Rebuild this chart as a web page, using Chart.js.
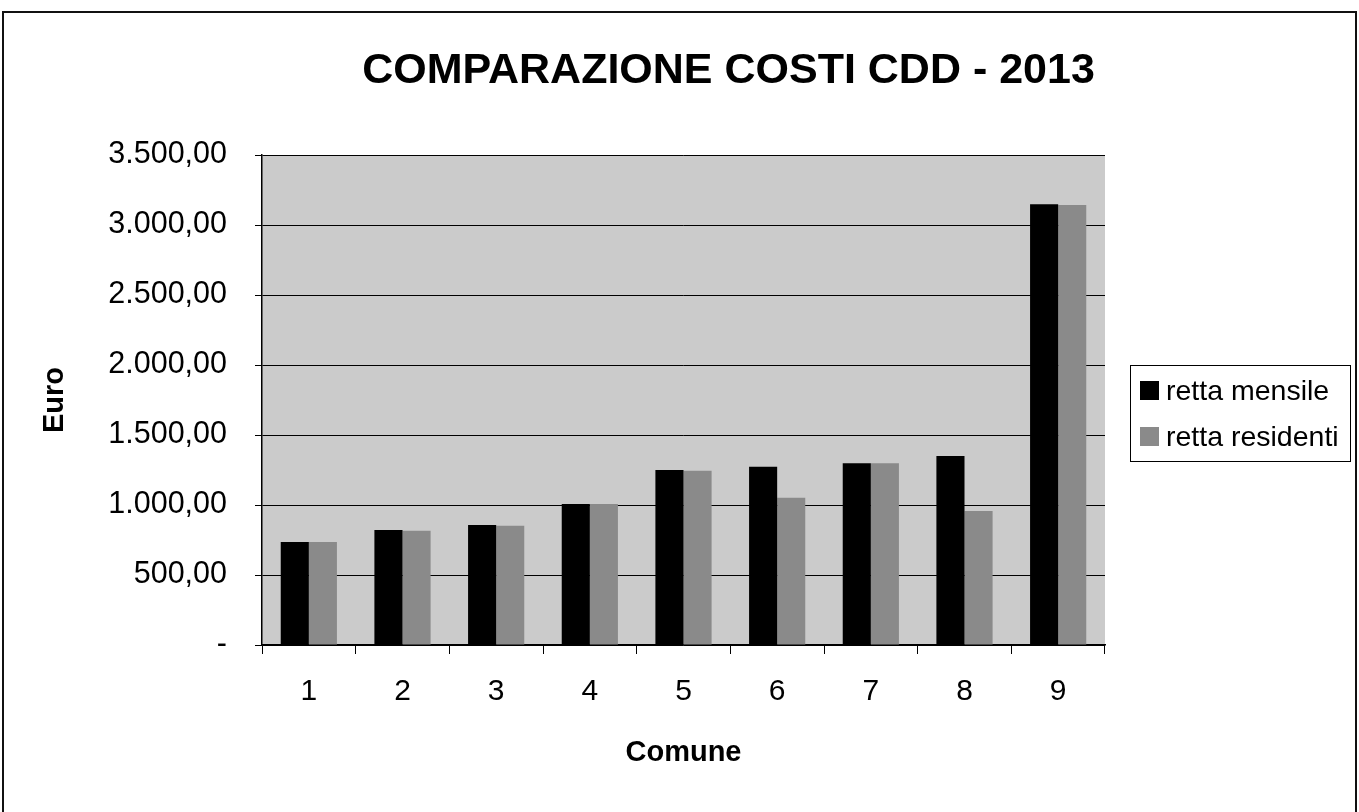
<!DOCTYPE html>
<html>
<head>
<meta charset="utf-8">
<title>Comparazione costi CDD 2013</title>
<script src="https://cdn.jsdelivr.net/npm/chart.js@4"></script>
<style>
  html, body { margin: 0; padding: 0; background: #fff; }
  #wrap { width: 1359px; height: 812px; position: relative; }
</style>
</head>
<body>
<div id="wrap"><canvas id="myChart"></canvas></div>
<script>
const titleText = 'COMPARAZIONE COSTI CDD - 2013';
const comuni = ['1', '2', '3', '4', '5', '6', '7', '8', '9'];
const rettaMensile = [735, 821, 857, 1007, 1250, 1274, 1298, 1350, 3148];
const rettaResidenti = [735, 816, 852, 1007, 1245, 1052, 1298, 957, 3143];
const seriesNames = ['retta mensile', 'retta residenti'];
const yTitle = 'Euro';
const xTitle = 'Comune';

const FONT = "Arial, 'Liberation Sans', sans-serif";

// 3500 -> "3.500,00", 0 -> "-"
function euro(v) {
    if (v === 0) return '-';
    const parts = v.toFixed(2).split('.');
    const intPart = parts[0].replace(/\B(?=(\d{3})+(?!\d))/g, '.');
    return intPart + ',' + parts[1];
}

// frame, grey plot background and the boxed legend
const decor = {
    id: 'decor',
    afterLayout(chart) {
        // title sits right of the canvas centre in the original
        if (chart.titleBlock) {
            chart.titleBlock.left = 98;
            chart.titleBlock.right = 1359;
        }
    },
    beforeDraw(chart) {
        const {ctx, chartArea: a} = chart;
        ctx.save();
        ctx.fillStyle = '#cbcbcb';
        ctx.fillRect(a.left, a.top, a.right - a.left, a.bottom - a.top);
        ctx.strokeStyle = '#111';
        ctx.lineWidth = 2;
        ctx.beginPath();
        ctx.moveTo(3, 812);
        ctx.lineTo(3, 12);
        ctx.lineTo(1356, 12);
        ctx.lineTo(1356, 812);
        ctx.stroke();
        ctx.restore();
    },
    afterDraw(chart) {
        const ctx = chart.ctx;
        const box = {x: 1130, y: 365, w: 220, h: 96};
        ctx.save();
        ctx.fillStyle = '#fff';
        ctx.fillRect(box.x, box.y, box.w, box.h);
        ctx.strokeStyle = '#000';
        ctx.lineWidth = 1;
        ctx.strokeRect(box.x + 0.5, box.y + 0.5, box.w, box.h);
        ctx.font = '28.5px ' + FONT;
        ctx.textBaseline = 'middle';
        chart.data.datasets.forEach((ds, i) => {
            const cy = box.y + 26 + i * 46;
            ctx.fillStyle = ds.backgroundColor;
            ctx.fillRect(box.x + 10, cy - 10, 19, 19);
            ctx.fillStyle = '#000';
            ctx.fillText(ds.label, box.x + 36, cy + 1);
        });
        ctx.restore();
    }
};

const ctx = document.getElementById('myChart').getContext('2d');
new Chart(ctx, {
    type: 'bar',
    data: {
        labels: comuni,
        datasets: [{
            label: seriesNames[0],
            data: rettaMensile,
            backgroundColor: '#000000',
            borderWidth: 0,
            categoryPercentage: 0.6,
            barPercentage: 1.0
        }, {
            label: seriesNames[1],
            data: rettaResidenti,
            backgroundColor: '#8a8a8a',
            borderWidth: 0,
            categoryPercentage: 0.6,
            barPercentage: 1.0
        }]
    },
    options: {
        responsive: true,
        maintainAspectRatio: false,
        animation: false,
        layout: {
            padding: {top: 0, left: 20, right: 254, bottom: 0}
        },
        plugins: {
            legend: { display: false },
            tooltip: { enabled: false },
            title: {
                display: true,
                text: titleText,
                color: '#000',
                font: { family: FONT, size: 43, weight: 'bold', lineHeight: 1.2 },
                padding: { top: 45, bottom: 58.4 }
            }
        },
        scales: {
            x: {
                grid: {
                    offset: true,
                    drawOnChartArea: false,
                    color: '#000',
                    tickLength: 9
                },
                border: { display: true, color: '#000', width: 1.5 },
                ticks: {
                    color: '#000',
                    padding: 20,
                    font: { family: FONT, size: 30 }
                },
                title: {
                    display: true,
                    text: xTitle,
                    color: '#000',
                    font: { family: FONT, size: 29, weight: 'bold', lineHeight: 1.2 },
                    padding: { top: 0, bottom: 42 }
                },
                afterFit(scale) { scale.height = 167; }
            },
            y: {
                min: 0,
                max: 3500,
                grid: {
                    color: '#000',
                    lineWidth: 1,
                    tickLength: 7
                },
                border: { display: true, color: '#000', width: 1.5 },
                ticks: {
                    stepSize: 500,
                    color: '#000',
                    padding: 28,
                    font: { family: FONT, size: 30.5 },
                    callback: (v) => euro(v)
                },
                title: {
                    display: true,
                    text: yTitle,
                    color: '#000',
                    font: { family: FONT, size: 29, weight: 'bold', lineHeight: 1.2 },
                    padding: { top: 18, bottom: 0 }
                },
                afterFit(scale) { scale.width = 242; }
            }
        }
    },
    plugins: [decor]
});
</script>
</body>
</html>
